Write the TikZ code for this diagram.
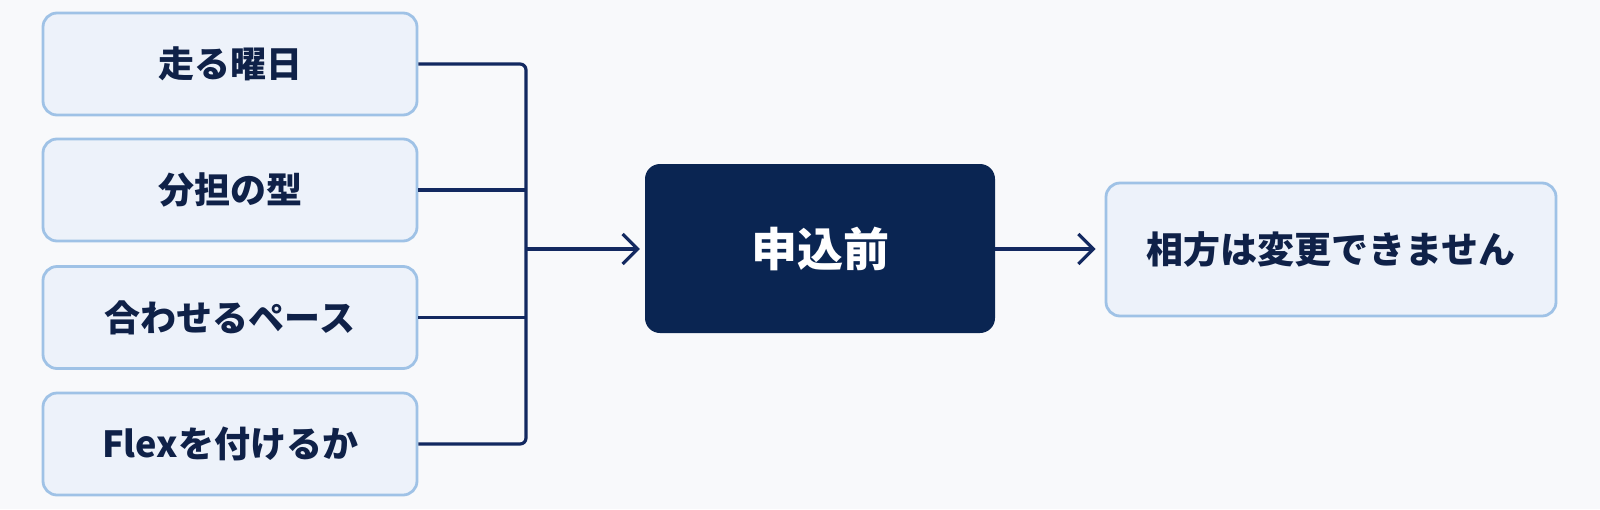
\documentclass[tikz,border=0pt]{standalone}
\usepackage{fontspec}
\setmainfont{Noto Sans CJK JP}
\usetikzlibrary{arrows.meta}
\definecolor{bgc}{HTML}{F8F9FB}
\definecolor{boxfill}{HTML}{EDF2FA}
\definecolor{boxline}{HTML}{9FC2E6}
\definecolor{navy}{HTML}{0A2552}
\definecolor{linec}{HTML}{132960}
\definecolor{textc}{HTML}{0F2148}
\tikzset{
  lightbox/.style={draw=boxline, fill=boxfill, line width=2.8pt, rounded corners=14pt,
    inner sep=0pt, text=textc, font=\bfseries\fontsize{36}{40}\selectfont},
  darkbox/.style={fill=navy, rounded corners=15pt, inner sep=0pt, text=white,
    font=\bfseries\fontsize{46}{52}\selectfont},
  conn/.style={draw=linec, line width=3.2pt},
  arr/.style={conn, -{Straight Barb[length=15pt,width=30pt,line width=3.2pt]}}
}
\begin{document}
\begin{tikzpicture}[x=1pt,y=-1pt]
\fill[bgc] (0,0) rectangle (1600,509);
\useasboundingbox (0,0) rectangle (1600,509);
\node[lightbox, minimum width=374pt, minimum height=102pt] (b1) at (230,64) {走る曜日};
\node[lightbox, minimum width=374pt, minimum height=102pt] (b2) at (230,190) {分担の型};
\node[lightbox, minimum width=374pt, minimum height=102pt] (b3) at (230,317.5) {合わせるペース};
\node[lightbox, minimum width=374pt, minimum height=102pt] (b4) at (230,444) {Flexを付けるか};
\node[darkbox, minimum width=350pt, minimum height=169pt] (c) at (820,248.5) {申込前};
\node[lightbox, font=\bfseries\fontsize{37}{42}\selectfont, minimum width=450pt, minimum height=133pt] (r) at (1331,249.5) {相方は変更できません};
\coordinate (bus) at (526,249);
\draw[conn, rounded corners=6pt] (b1.east) -| (bus) |- (b4.east);
\draw[conn] (b2.east) -- (b2.east -| bus);
\draw[conn] (b3.east) -- (b3.east -| bus);
\draw[arr, shorten >=5pt] (bus) -- (c.west |- bus);
\draw[arr, shorten >=9pt] (c.east |- bus) -- (r.west |- bus);
\end{tikzpicture}
\end{document}
